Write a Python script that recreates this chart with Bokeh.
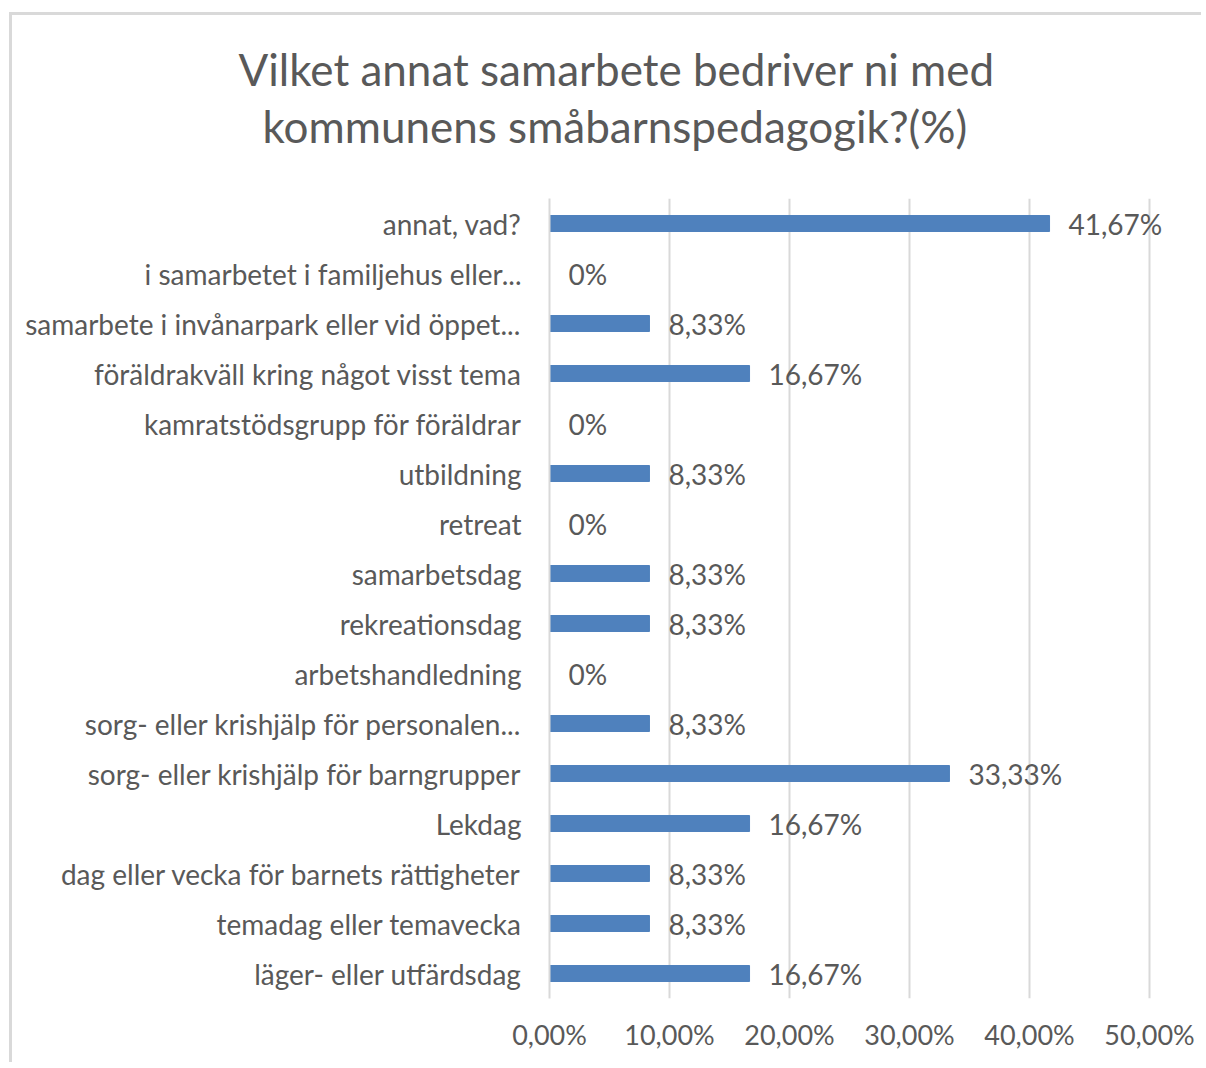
from bokeh.plotting import figure
from bokeh.models import ColumnDataSource, FixedTicker, Range1d, FactorRange, Title, LabelSet, LinearAxis
from bokeh.core.properties import value
from bokeh.embed import file_html
from bokeh.resources import INLINE

categories = [
    "annat, vad?",
    "i samarbetet i familjehus eller...",
    "samarbete i invånarpark eller vid öppet...",
    "föräldrakväll kring något visst tema",
    "kamratstödsgrupp för föräldrar",
    "utbildning",
    "retreat",
    "samarbetsdag",
    "rekreationsdag",
    "arbetshandledning",
    "sorg- eller krishjälp för personalen...",
    "sorg- eller krishjälp för barngrupper",
    "Lekdag",
    "dag eller vecka för barnets rättigheter",
    "temadag eller temavecka",
    "läger- eller utfärdsdag",
]
values = [41.67, 0, 8.33, 16.67, 0, 8.33, 0, 8.33, 8.33, 0, 8.33, 33.33, 16.67, 8.33, 8.33, 16.67]
tick_values = [0, 10, 20, 30, 40, 50]
tick_labels = ["0,00%", "10,00%", "20,00%", "30,00%", "40,00%", "50,00%"]
title_lines = ["Vilket annat samarbete bedriver ni med", "kommunens småbarnspedagogik?(%)"]

def fmt(v):
    return "0%" if v == 0 else f"{v:.2f}".replace(".", ",") + "%"

src = ColumnDataSource(dict(cat=categories, val=values, lab=[fmt(v) for v in values]))

FONT = "Lato"
TXT = "#595959"
GRID = "#d9d9d9"

p = figure(width=1192, height=1050, output_backend="svg", toolbar_location=None,
           y_range=FactorRange(factors=list(reversed(categories)), range_padding=0),
           x_range=Range1d(0, 54),
           min_border_left=537, min_border_right=7, min_border_top=183, min_border_bottom=67)

p.styles = {"margin-left": "9px", "margin-top": "12px",
            "border-left": "3px solid #d9d9d9", "border-top": "3px solid #d9d9d9"}

p.hbar(y="cat", right="val", height=0.32, source=src, fill_color="#4f81bd", line_color="#4f81bd")

labels = LabelSet(x="val", y="cat", text="lab", source=src, x_offset=19, y_offset=0,
                  text_align="left", text_baseline="middle", text_font=value(FONT),
                  text_font_size=value("28px"), text_color=value(TXT))
p.add_layout(labels)

p.xaxis.ticker = FixedTicker(ticks=tick_values)
p.xaxis.major_label_overrides = {t: l for t, l in zip(tick_values, tick_labels)}
p.xaxis.axis_line_color = None
p.xaxis.major_tick_line_color = None
p.xaxis.minor_tick_line_color = None
p.xaxis.major_tick_out = 0
p.xaxis.major_label_standoff = 19
p.xaxis.major_label_text_font = FONT
p.xaxis.major_label_text_font_size = "27px"
p.xaxis.major_label_text_color = TXT

p.yaxis.axis_line_color = GRID
p.yaxis.axis_line_width = 2
p.yaxis.major_tick_line_color = None
p.yaxis.minor_tick_line_color = None
p.yaxis.major_tick_out = 0
p.yaxis.major_label_standoff = 28
p.yaxis.major_label_text_font = FONT
p.yaxis.major_label_text_font_size = "28px"
p.yaxis.major_label_text_color = TXT

p.xgrid.grid_line_color = GRID
p.xgrid.grid_line_width = 2
p.ygrid.grid_line_color = None
p.outline_line_color = None

# invisible spacer between plot area and title
spacer = LinearAxis(ticker=FixedTicker(ticks=[0]), major_label_overrides={0: ""},
                    axis_line_color=None, major_tick_line_color=None,
                    minor_tick_line_color=None, major_tick_out=47, minor_tick_out=0, major_tick_in=0,
                    minor_tick_in=0, major_label_standoff=0, major_label_text_font_size="1px")
p.add_layout(spacer, "above")

offsets = [238 - 549, 262 - 549]
standoffs = [6, 0]
for line, off, so in reversed(list(zip(title_lines, offsets, standoffs))):
    p.add_layout(Title(text=line, align="left", offset=off, text_font=FONT, text_font_size="44px",
                       text_font_style="normal", text_color=TXT, standoff=so), "above")

open("out.html", "w").write(file_html(p, INLINE))
